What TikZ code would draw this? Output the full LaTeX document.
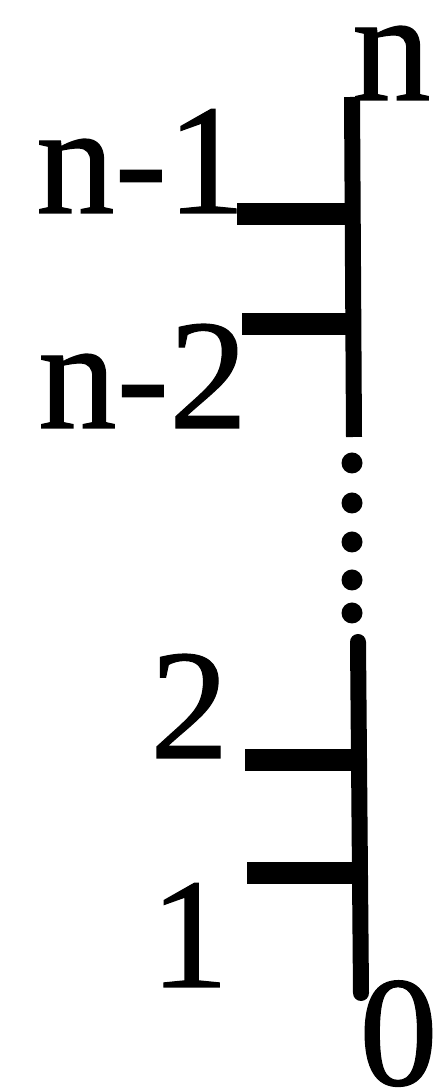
\documentclass[tikz,border=0pt]{standalone}
\usepackage{fontspec}
\setmainfont{Liberation Serif}[FakeBold=0.8]
\usepackage{tikz}
\usetikzlibrary{positioning, calc}
\tikzset{
  stem/.style={line width=16pt, color=black},
  rung/.style={line width=22pt, color=black},
  dot/.style={fill=black},
  lbl/.style={inner sep=0pt, anchor=base west,
    font=\fontsize{157}{160}\selectfont}
}

\begin{document}
\begin{tikzpicture}[x=1pt, y=1pt]
  \useasboundingbox (0,0) rectangle (439,1090);
  % stem, upper and lower part
  \coordinate (topend) at (352,993);
  \coordinate (upgap) at (354,653);
  \coordinate (lowgap) at (358,448);
  \coordinate (botend) at (361,97);
  \draw[stem] (topend) -- (upgap);
  \draw[stem, line cap=round] (lowgap) -- (botend);
  \foreach \y in {627,587,548,510,477}
    \fill[dot] (352,\y) circle (10.5);
  % rungs
  \coordinate (r1a) at (237,876);  \coordinate (r1b) at (353,876);
  \coordinate (r2a) at (242,766);  \coordinate (r2b) at (354,766);
  \coordinate (r3a) at (245,330);  \coordinate (r3b) at (359,330);
  \coordinate (r4a) at (247,217);  \coordinate (r4b) at (360,217);
  \draw[rung] (r1a) -- (r1b);
  \draw[rung] (r2a) -- (r2b);
  \draw[rung] (r3a) -- (r3b);
  \draw[rung] (r4a) -- (r4b);
  % labels
  \node[lbl] (ltop) at (352,990) {n};
  \node[lbl] (lnm1) at (36,877) {n-1};
  \node[lbl] (lnm2) at (38,662) {n-2};
  \node[lbl] (ltwo) at (150,332) {2};
  \node[lbl] (lone) at (150,103) {1};
  \node[lbl] (lzero) at (359,5) {0};
\end{tikzpicture}
\end{document}
